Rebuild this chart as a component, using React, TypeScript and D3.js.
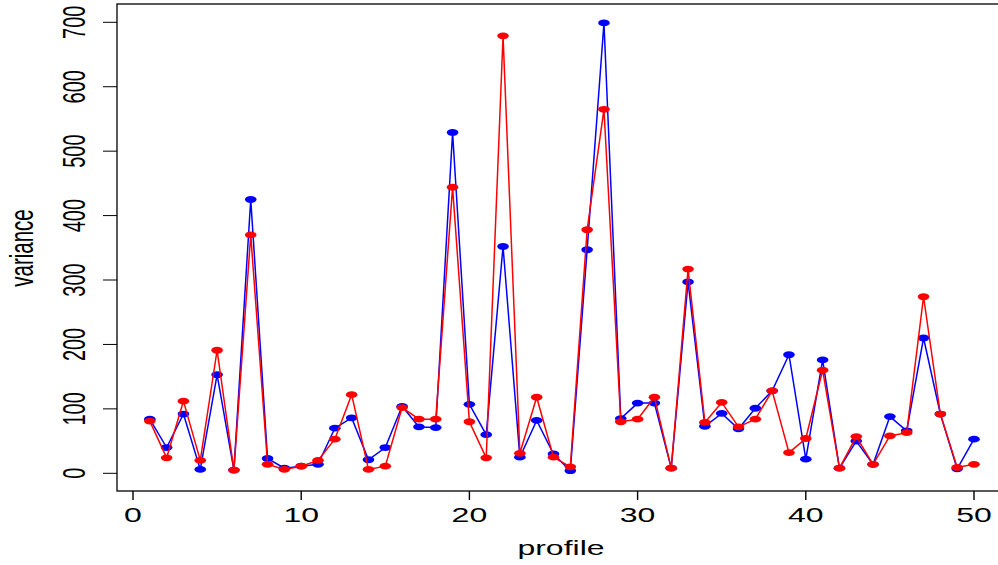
import React, { useEffect, useRef } from "react"
import * as d3 from "d3"

const profiles = d3.range(1, 51);

const blueValues = [
    84, 40, 92, 6, 153, 5, 425, 23, 8, 11,
    14, 70, 86, 21, 40, 104, 72, 71, 529, 107,
    60, 352, 25, 82, 30, 4, 347, 699, 85, 109,
    109, 8, 297, 73, 93, 69, 101, 128, 184, 22,
    176, 8, 50, 14, 88, 66, 210, 92, 7, 53
];

const redValues = [
    81, 24, 112, 20, 191, 5, 370, 14, 6, 11,
    20, 53, 122, 6, 11, 102, 84, 84, 444, 80,
    24, 679, 31, 118, 25, 10, 378, 565, 80, 84,
    118, 8, 317, 79, 110, 72, 84, 128, 32, 54,
    160, 8, 57, 14, 58, 63, 274, 92, 9, 14
];

const xTicks = [0, 10, 20, 30, 40, 50];
const yTicks = [0, 100, 200, 300, 400, 500, 600, 700];

const WIDTH = 998;
const HEIGHT = 565;
// the picture is stretched sideways, so text is too
const SX = 1.6;
const FONT = "'Liberation Sans', Arial, Helvetica, sans-serif";

const App = () => {
    const ref = useRef(null);

    useEffect(() => {
        const svg = d3.select(ref.current);
        svg.selectAll('*').remove();

        const xScale = d3.scaleLinear().domain([0, 50]).range([133, 974]);
        const yScale = d3.scaleLinear().domain([0, 700]).range([473.3, 22.3]);

        const box = { left: 117, top: 4, right: 1001, bottom: 491 };

        svg.append('rect')
            .attr('x', box.left)
            .attr('y', box.top)
            .attr('width', box.right - box.left)
            .attr('height', box.bottom - box.top)
            .attr('fill', 'none')
            .attr('stroke', '#000')
            .attr('stroke-width', 1.3);

        // y axis ticks + labels
        const yAxisG = svg.append('g');
        yAxisG.selectAll('line')
            .data(yTicks)
            .join('line')
            .attr('x1', box.left - 14)
            .attr('x2', box.left)
            .attr('y1', d => yScale(d))
            .attr('y2', d => yScale(d))
            .attr('stroke', '#000')
            .attr('stroke-width', 1);

        yAxisG.selectAll('text')
            .data(yTicks)
            .join('text')
            .attr('transform', d => `translate(85, ${yScale(d)}) scale(${SX}, 1) rotate(-90)`)
            .attr('text-anchor', 'middle')
            .attr('font-family', FONT)
            .attr('font-size', 20)
            .attr('fill', '#000')
            .text(d => d);

        // x axis ticks + labels
        const xAxisG = svg.append('g');
        xAxisG.selectAll('line')
            .data(xTicks)
            .join('line')
            .attr('x1', d => xScale(d))
            .attr('x2', d => xScale(d))
            .attr('y1', box.bottom)
            .attr('y2', box.bottom + 9)
            .attr('stroke', '#000')
            .attr('stroke-width', 1.4);

        xAxisG.selectAll('text')
            .data(xTicks)
            .join('text')
            .attr('transform', d => `translate(${xScale(d)}, 522) scale(${SX}, 1)`)
            .attr('text-anchor', 'middle')
            .attr('font-family', FONT)
            .attr('font-size', 20)
            .attr('fill', '#000')
            .text(d => d);

        svg.append('text')
            .attr('transform', `translate(561, 555) scale(${SX}, 1)`)
            .attr('text-anchor', 'middle')
            .attr('font-family', FONT)
            .attr('font-size', 20)
            .attr('fill', '#000')
            .text('profile');

        svg.append('text')
            .attr('transform', `translate(33, 248) scale(${SX}, 1) rotate(-90)`)
            .attr('text-anchor', 'middle')
            .attr('font-family', FONT)
            .attr('font-size', 20.5)
            .attr('fill', '#000')
            .text('variance');

        const drawSeries = (values, color) => {
            const data = profiles.map((p, i) => ({ p, v: values[i] }));
            const line = d3.line()
                .x(d => xScale(d.p))
                .y(d => yScale(d.v));

            svg.append('path')
                .attr('d', line(data))
                .attr('fill', 'none')
                .attr('stroke', color)
                .attr('stroke-width', 1.5);

            svg.append('g')
                .selectAll('ellipse')
                .data(data)
                .join('ellipse')
                .attr('cx', d => xScale(d.p))
                .attr('cy', d => yScale(d.v))
                .attr('rx', 5.8)
                .attr('ry', 3.4)
                .attr('fill', color);
        };

        drawSeries(blueValues, '#0000ff');
        drawSeries(redValues, '#ff0000');
    }, []);

    return (
        <div style={{ position: 'absolute', left: 0, top: 0 }}>
            <svg width={WIDTH} height={HEIGHT} style={{ display: 'block', background: '#fff' }}>
                <g ref={ref} />
            </svg>
        </div>
    )
}

export default App;
